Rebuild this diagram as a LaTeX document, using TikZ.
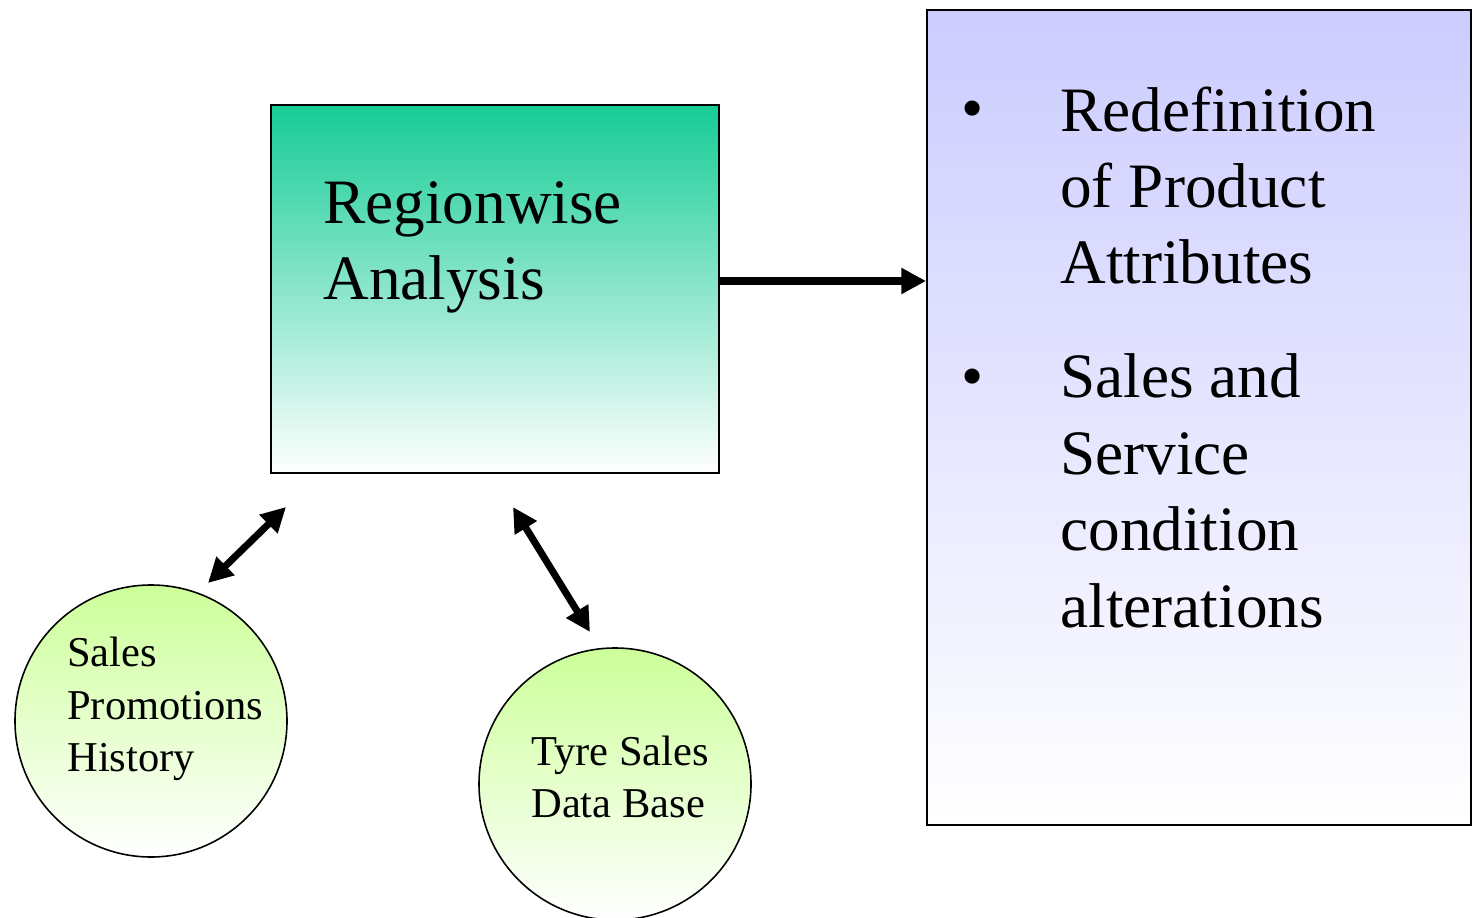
\documentclass[tikz,border=0pt]{standalone}
\usepackage{fontspec}
\setmainfont{Liberation Serif}
\usetikzlibrary{arrows.meta}
\definecolor{seagreen}{RGB}{22,204,150}
\definecolor{lavender}{RGB}{204,204,255}
\definecolor{limegreen}{RGB}{204,255,153}
\tikzset{
  panel/.style={draw=black, line width=1.1pt},
  bubble/.style={draw=black, line width=0.9pt},
  link/.style={line width=4pt, -{Triangle[length=14pt,width=14pt]}},
  duallink/.style={line width=4pt, {Triangle[length=14pt,width=14pt]}-{Triangle[length=14pt,width=14pt]}},
  bigtext/.style={font=\fontsize{36}{43.5}\selectfont, align=left, inner sep=0pt, anchor=base west},
  smalltext/.style={font=\fontsize{24.2}{29.6}\selectfont, align=left, inner sep=0pt, anchor=base west}
}
\begin{document}
\begin{tikzpicture}[x=0.02cm, y=-0.02cm]
\useasboundingbox (0,0) rectangle (1476,918);

% analysis box
\shade[top color=seagreen, bottom color=white] (271,105) rectangle (719,473);
\node[panel, minimum width=448*0.02cm, minimum height=368*0.02cm, inner sep=0pt] (analysis) at (495,289) {};
% multi-line nodes are placed by the baseline of their last line
\node[bigtext] (analysistext) at (323,300) {Regionwise\\Analysis};

% outcomes box
\shade[top color=lavender, bottom color=white] (927,10) rectangle (1471,825);
\node[panel, minimum width=544*0.02cm, minimum height=815*0.02cm, inner sep=0pt] (outcomes) at (1199,417.5) {};
\node[bigtext, anchor=base] (bulleta) at (973,130) {•};
\node[bigtext] (itema) at (1060,284) {Redefinition\\of Product\\Attributes};
\node[bigtext, anchor=base] (bulletb) at (973,398) {•};
\node[bigtext] (itemb) at (1060,627) {Sales and\\Service\\condition\\alterations};

% data sources
\shade[bubble, top color=limegreen, bottom color=white] (151,721) circle (136);
\node[circle, minimum size=272*0.02cm, inner sep=0pt] (promo) at (151,721) {};
\node[smalltext] (promotext) at (67,771) {Sales\\Promotions\\History};

\shade[bubble, top color=limegreen, bottom color=white] (615,784) circle (136);
\node[circle, minimum size=272*0.02cm, inner sep=0pt] (tyre) at (615,784) {};
\node[smalltext] (tyretext) at (531,817) {Tyre Sales\\Data Base};

% connectors
\coordinate (promoend) at (208,583);
\coordinate (analysisA) at (286,507);
\coordinate (analysisB) at (513,507);
\coordinate (tyreend) at (590,632);
\draw[link] (analysis.east |- 0,281) -- (outcomes.west |- 0,281);
\draw[duallink] (promoend) -- (analysisA);
\draw[duallink] (analysisB) -- (tyreend);
\end{tikzpicture}
\end{document}
